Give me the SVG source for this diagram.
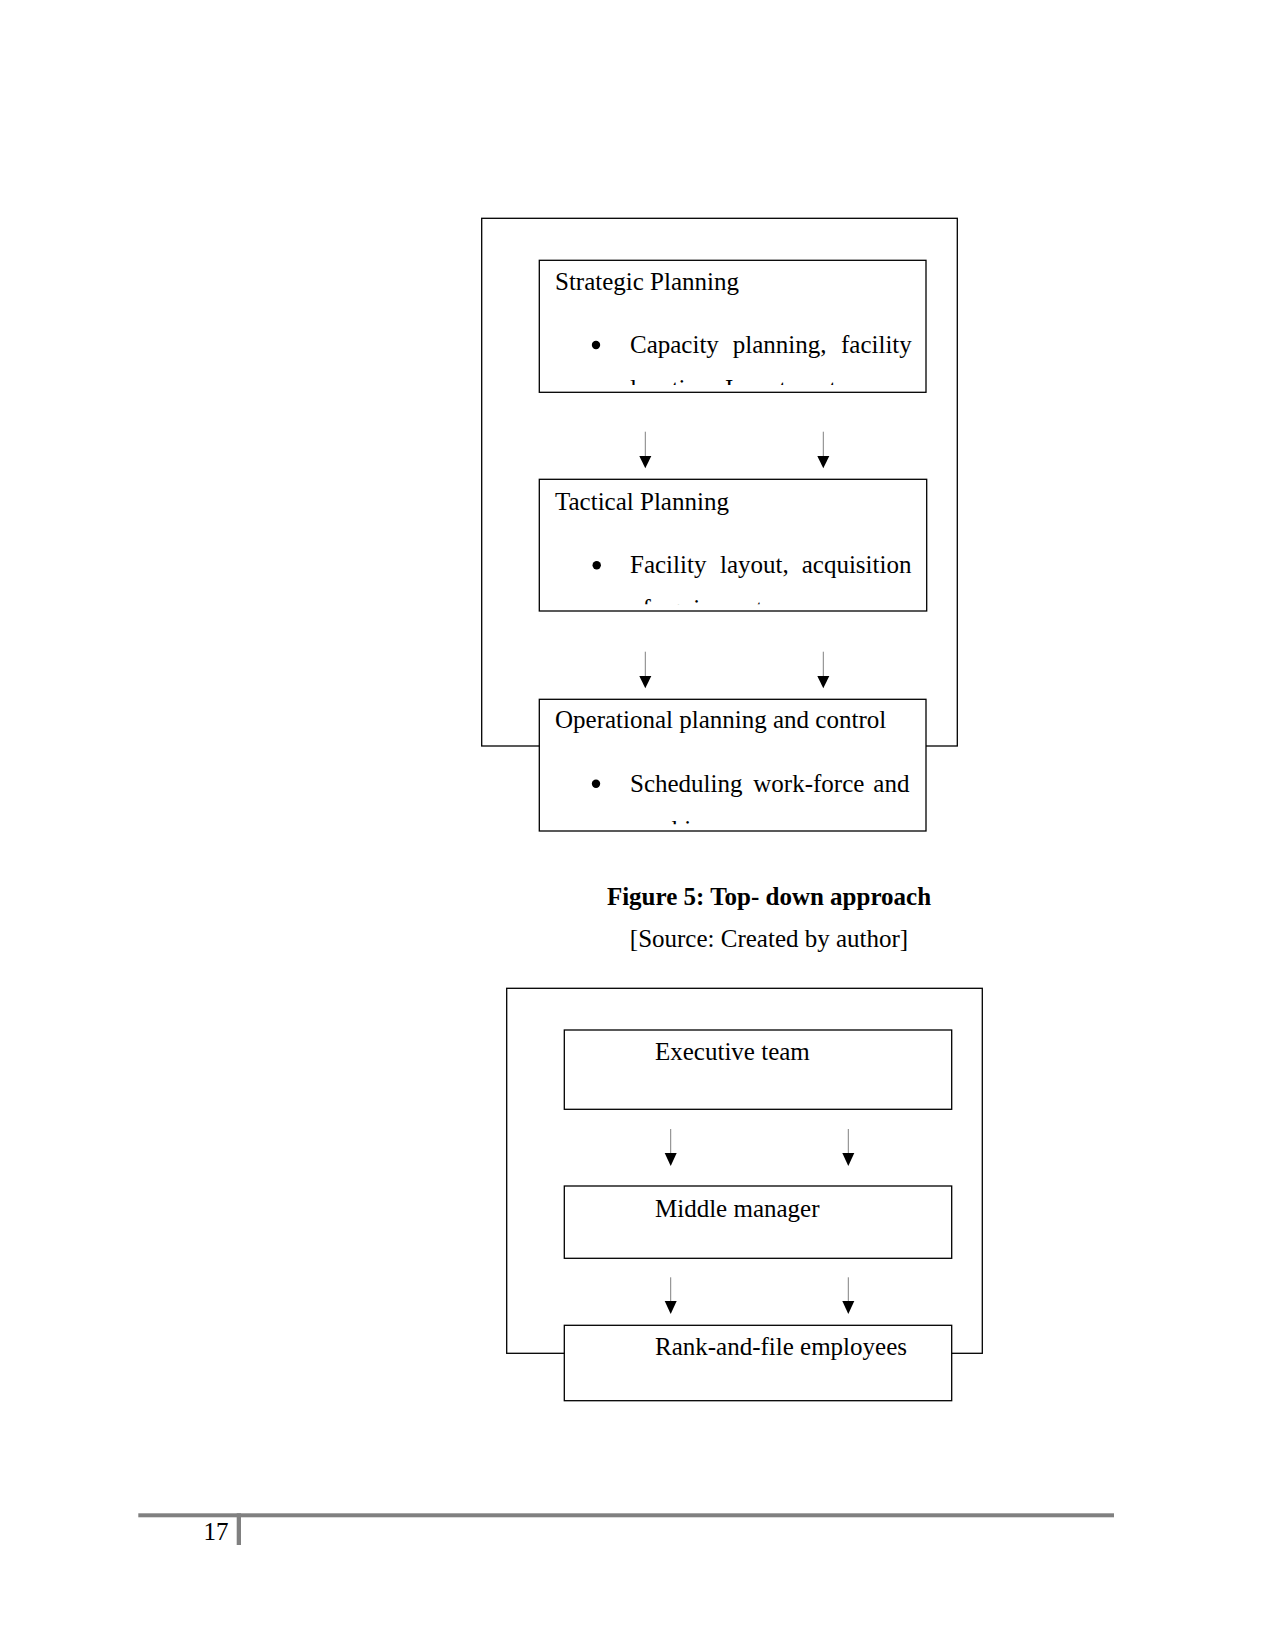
<svg xmlns="http://www.w3.org/2000/svg" width="1275" height="1650" viewBox="0 0 1275 1650">
<style>
.frame{fill:none;stroke:#000;stroke-width:1.3}
.box{fill:#fff;stroke:#000;stroke-width:1.3}
.t{font-family:"Liberation Serif","Times New Roman",serif;font-size:25px;fill:#000}
.cap{font-family:"Liberation Serif","Times New Roman",serif;font-size:25px;fill:#000;text-anchor:middle}
.conn line{stroke:#808080;stroke-width:1}
.conn path{fill:#000;stroke:none}
</style>
<defs>
<clipPath id="c1"><rect x="540" y="261" width="385.5" height="124"/></clipPath>
<clipPath id="c2"><rect x="540" y="480" width="386" height="124.3"/></clipPath>
<clipPath id="c3"><rect x="540" y="700" width="385.5" height="124.3"/></clipPath>
</defs>
<rect width="1275" height="1650" fill="#fff"/>

<!-- Figure 5 -->
<g id="frame1"><rect class="frame" x="481.7" y="218.3" width="475.6" height="527.7"/></g>

<g class="conn" id="connectors1">
<line x1="645.3" y1="431.7" x2="645.3" y2="457"/><path d="M639.3,456 L651.3,456 L645.3,468.3 Z"/>
<line x1="823.3" y1="431.7" x2="823.3" y2="457"/><path d="M817.3,456 L829.3,456 L823.3,468.3 Z"/>
<line x1="645.3" y1="651.7" x2="645.3" y2="677"/><path d="M639.3,676 L651.3,676 L645.3,688.3 Z"/>
<line x1="823.3" y1="651.7" x2="823.3" y2="677"/><path d="M817.3,676 L829.3,676 L823.3,688.3 Z"/>
</g>

<g id="strategic">
<rect class="box" x="539.3" y="260.3" width="386.7" height="132"/>
<g clip-path="url(#c1)">
<text class="t" x="555" y="290">Strategic Planning</text>
<circle cx="596" cy="345" r="4.2"/>
<text class="t" y="353"><tspan x="630">Capacity</tspan><tspan x="732.7">planning,</tspan><tspan x="841">facility</tspan></text>
<text class="t" y="396.5"><tspan x="630">location,</tspan><tspan x="725">Investment</tspan></text>
</g>
</g>

<g id="tactical">
<rect class="box" x="539.3" y="479.3" width="387.4" height="131.7"/>
<g clip-path="url(#c2)">
<text class="t" x="555" y="510">Tactical Planning</text>
<circle cx="596.7" cy="565.3" r="4.2"/>
<text class="t" y="573.3"><tspan x="630">Facility</tspan><tspan x="720">layout,</tspan><tspan x="801.7">acquisition</tspan></text>
<text class="t" x="630" y="617">of equipment</text>
</g>
</g>

<g id="operational">
<rect class="box" x="539.3" y="699.3" width="386.7" height="131.7"/>
<g clip-path="url(#c3)">
<text class="t" x="555" y="728.3">Operational planning and control</text>
<circle cx="596" cy="783.7" r="4.2"/>
<text class="t" y="791.7"><tspan x="630">Scheduling</tspan><tspan x="753.3">work-force</tspan><tspan x="873.3">and</tspan></text>
<text class="t" x="630" y="838">machines</text>
</g>
</g>

<g id="caption">
<text class="cap" x="769" y="905" font-weight="bold">Figure 5: Top- down approach</text>
<text class="cap" x="769" y="947.3">[Source: Created by author]</text>
</g>

<!-- Second diagram -->
<g id="frame2"><rect class="frame" x="506.7" y="988.3" width="475.6" height="365"/></g>

<g class="conn" id="connectors2">
<line x1="670.7" y1="1129" x2="670.7" y2="1154"/><path d="M664.7,1153 L676.7,1153 L670.7,1166 Z"/>
<line x1="848.3" y1="1129" x2="848.3" y2="1154"/><path d="M842.3,1153 L854.3,1153 L848.3,1166 Z"/>
<line x1="670.7" y1="1277.3" x2="670.7" y2="1302"/><path d="M664.7,1301 L676.7,1301 L670.7,1314 Z"/>
<line x1="848.3" y1="1277.3" x2="848.3" y2="1302"/><path d="M842.3,1301 L854.3,1301 L848.3,1314 Z"/>
</g>

<g id="executive">
<rect class="box" x="564.3" y="1030" width="387.4" height="79.3"/>
<text class="t" x="655" y="1060">Executive team</text>
</g>
<g id="middle">
<rect class="box" x="564.3" y="1186" width="387.4" height="72.3"/>
<text class="t" x="655" y="1216.7">Middle manager</text>
</g>
<g id="rank">
<rect class="box" x="564.3" y="1325.3" width="387.4" height="75.4"/>
<text class="t" x="655" y="1355">Rank-and-file employees</text>
</g>

<!-- footer -->
<g id="footer">
<rect x="138.3" y="1513.3" width="975.7" height="4" fill="#808080"/>
<rect x="236.7" y="1513.3" width="4.3" height="31.7" fill="#808080"/>
<text class="t" x="228.5" y="1540" text-anchor="end">17</text>
</g>
</svg>
